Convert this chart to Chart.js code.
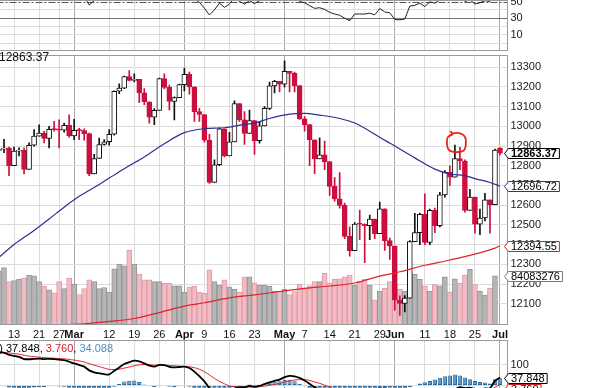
<!DOCTYPE html>
<html>
<head>
<meta charset="utf-8">
<script src="https://cdn.jsdelivr.net/npm/chart.js@4.4.1/dist/chart.umd.min.js"></script>
<style>
  html, body { margin: 0; padding: 0; background: #fff; }
  body { width: 591px; height: 388px; overflow: hidden; position: relative; }
  canvas { position: absolute; left: -20px; }
  #rsi { top: 0; }
  #main { top: 51px; }
  #macd { top: 336px; }
</style>
</head>
<body>
<canvas id="rsi" width="611" height="51"></canvas>
<canvas id="main" width="611" height="294"></canvas>
<canvas id="macd" width="611" height="110"></canvas>
<script>
const FONT = '"Liberation Sans", Arial, Helvetica, sans-serif';

// trading days shown (Jul 3 is an empty slot at the right edge)
const dates = ['Feb 8','Feb 9','Feb 10','Feb 13','Feb 14','Feb 15','Feb 16','Feb 17','Feb 21','Feb 22','Feb 23','Feb 24','Feb 27','Feb 28','Feb 29',
  'Mar 1','Mar 2','Mar 5','Mar 6','Mar 7','Mar 8','Mar 9','Mar 12','Mar 13','Mar 14','Mar 15','Mar 16','Mar 19','Mar 20','Mar 21','Mar 22','Mar 23','Mar 26','Mar 27','Mar 28','Mar 29','Mar 30',
  'Apr 2','Apr 3','Apr 4','Apr 5','Apr 9','Apr 10','Apr 11','Apr 12','Apr 13','Apr 16','Apr 17','Apr 18','Apr 19','Apr 20','Apr 23','Apr 24','Apr 25','Apr 26','Apr 27','Apr 30',
  'May 1','May 2','May 3','May 4','May 7','May 8','May 9','May 10','May 11','May 14','May 15','May 16','May 17','May 18','May 21','May 22','May 23','May 24','May 25','May 29','May 30','May 31',
  'Jun 1','Jun 4','Jun 5','Jun 6','Jun 7','Jun 8','Jun 11','Jun 12','Jun 13','Jun 14','Jun 15','Jun 18','Jun 19','Jun 20','Jun 21','Jun 22','Jun 25','Jun 26','Jun 27','Jun 28','Jun 29',
  'Jul 2','Jul 3'];

const tickDates = ['Feb 13','Feb 21','Feb 27','Mar 1','Mar 12','Mar 19','Mar 26','Apr 2','Apr 9','Apr 16','Apr 23','May 1','May 7','May 14','May 21','May 29','Jun 1','Jun 11','Jun 18','Jun 25','Jul 2'];
const tickText  = ['13','21','27','Mar','12','19','26','Apr','9','16','23','May','7','14','21','29','Jun','11','18','25','Jul'];
const monthNames = ['Mar','Apr','May','Jun','Jul'];

const opens = [12878,12884,12890,12801,12874,12878,12781,12904,12950,12966,
  12939,12985,12983,12981,13005,12952,12980,12978,12963,12759,
  12837,12908,12922,12960,13178,13194,13253,13233,13239,13170,
  13125,13046,13081,13242,13198,13126,13146,13212,13264,13200,
  13075,13060,12930,12716,12805,12987,12850,12921,13116,13033,
  12964,13029,12927,13002,13091,13205,13228,13214,13279,13269,
  13207,13038,13009,12932,12835,12855,12821,12695,12632,12599,
  12442,12369,12504,12503,12496,12530,12455,12581,12420,12393,
  12119,12101,12128,12415,12461,12554,12411,12574,12496,12652,
  12767,12742,12837,12824,12574,12641,12503,12535,12627,12602,
  12888,null];
const highs = [12900,12934,12895,12895,12891,12891,12916,12983,13008,12975,
  13000,13025,13033,13016,13058,13036,12990,12988,12966,12858,
  12941,12933,12983,13180,13216,13255,13283,13266,13239,13191,
  13125,13090,13245,13266,13210,13150,13215,13295,13275,13200,
  13091,13060,12960,12830,12993,12987,12970,13130,13116,13075,
  13083,13029,13020,13100,13225,13233,13228,13333,13279,13275,
  13207,13050,13009,12932,12942,12925,12821,12740,12766,12610,
  12490,12512,12575,12505,12550,12530,12616,12581,12433,12393,
  12140,12141,12420,12558,12560,12658,12580,12585,12665,12775,
  12800,12905,12893,12830,12680,12641,12580,12660,12627,12885,
  12892,null];
const lows = [12840,12866,12750,12801,12850,12758,12781,12900,12950,12916,
  12891,12975,12891,12970,12945,12933,12933,12930,12750,12759,
  12837,12905,12905,12955,13166,13191,13231,13225,13120,13110,
  13016,13008,13081,13190,13083,13033,13146,13180,13163,13025,
  13025,12920,12710,12716,12800,12845,12850,12921,13025,12908,
  12964,12858,12915,13002,13085,13170,13175,13200,13175,13175,
  13035,12975,12800,12760,12835,12780,12650,12620,12585,12430,
  12341,12369,12425,12308,12425,12430,12455,12370,12325,12066,
  12041,12058,12128,12415,12400,12400,12400,12460,12490,12640,
  12700,12742,12780,12565,12574,12458,12450,12520,12458,12602,
  12855,null];
const closes = [12884,12890,12801,12874,12878,12781,12904,12950,12966,12939,
  12985,12983,12981,13005,12952,12980,12978,12963,12759,12837,
  12908,12922,12960,13178,13194,13253,13233,13239,13170,13125,
  13046,13081,13242,13198,13126,13146,13212,13264,13200,13075,
  13060,12930,12716,12805,12987,12850,12921,13116,13033,12964,
  13029,12927,13002,13091,13205,13228,13214,13279,13269,13207,
  13038,13009,12932,12835,12855,12821,12695,12632,12599,12442,
  12369,12504,12503,12496,12530,12455,12581,12420,12393,12119,
  12101,12128,12415,12461,12554,12411,12574,12496,12652,12767,
  12742,12837,12824,12574,12641,12503,12535,12627,12602,12880,
  12863.37,null];

// volume in millions of shares
const volumes = [92,98,74,76,78,80,85,84,74,66,
  60,55,74,62,80,70,52,62,77,74,
  62,64,56,96,104,101,128,104,87,77,
  77,74,74,71,71,67,67,56,65,66,
  56,54,94,74,68,77,65,61,56,82,
  82,72,68,68,66,58,58,61,52,57,
  70,62,67,74,74,88,72,78,79,82,
  85,68,75,78,68,43,58,63,74,68,
  61,58,90,87,78,67,58,69,67,82,
  56,79,71,85,95,69,58,51,63,84.083276,
  null,null];

// moving averages at a few dates
const ma50Dates = ['Feb 8','Feb 13','Feb 17','Feb 23','Feb 28','Mar 2','Mar 8','Mar 14','Mar 16','Mar 21','Mar 27','Apr 2','Apr 9','Apr 13','Apr 19','Apr 23',
  'Apr 26','May 2','May 7','May 10','May 16','May 21','May 29','May 31','Jun 7','Jun 13','Jun 18','Jun 21','Jun 25','Jun 28','Jul 2'];
const ma50Values = [12335,12400,12472,12530,12590,12645,12705,12770,12800,12845,12912,12968,12988,12993,13010,13016,
  13040,13062,13066,13057,13040,13017,12945,12915,12840,12783,12758,12750,12735,12715,12696.72];
const ma200Dates = ['Feb 8','Feb 21','Feb 27','Mar 5','Mar 12','Mar 19','Mar 26','Apr 2','Apr 9','Apr 16','Apr 23','May 1','May 7','May 14','May 21',
  'May 29','Jun 4','Jun 11','Jun 18','Jun 25','Jun 29','Jul 2'];
const ma200Values = [11950,11975,11990,11998,12010,12025,12055,12088,12105,12130,12145,12165,12178,12190,12205,
  12240,12262,12295,12322,12352,12382,12394.55];

const rsiValues = [62,63,56,60,60,54,60,62,63,61,
  63,63,63,64,60,62,61,56,45.8,51,
  55,56,58,68,69,71,70,70,64,61,
  56,58,66,63,59,60,63,65,61,53,
  49,42,33.8,40,48,43,47,55,50,47,
  51,47.5,51,55,60,61,60,63,62,58,
  50,48.5,45,41.8,42.5,40.6,37,35,33.5,30,
  27,35,35,35,36,34,41.5,37.5,36.5,28.5,
  28,29,44.5,45.5,48,44,49.5,48,52,56,
  55,58,57,50,52,47,48.5,51,50,58,
  57.6,null];

const macdValues = [158,155,146,141,136,126,125,127,128,126,
  127,126,123,121,113,105,98,90,72,63,
  58,54,53,70,86,102,111,118,115,105,
  95,90,98,97,89,86,88,90,83,66,
  44,20,-12,-28,-25,-32,-30,-14,-8,-8,
  -2,-6,-2,7,15,22,28,40,46,44,
  36,24,8,-8,-20,-32,-52,-72,-90,-115,
  -138,-144,-148,-150,-147,-148,-137,-140,-142,-165,
  -183,-190,-168,-156,-140,-130,-115,-100,-80,-58,
  -40,-20,-8,-12,-10,-16,-18,-14,-13,22,
  37.848,null];
const signalValues = [160,158,155,152,149,144,140,137,135,133,
  131,130,128,127,124,121,117,112,104,97,
  90,83,77,76,78,83,88,94,98,100,
  99,97,97,97,95,94,92,91,89,85,
  77,66,50,34,20,8,-2,-6,-7,-8,
  -7,-7,-6,-3,1,5,10,16,22,26,
  28,28,24,17,10,2,-8,-20,-34,-50,
  -68,-83,-96,-107,-115,-122,-125,-128,-131,-138,
  -147,-153,-158,-158,-150,-145,-136,-128,-117,-102,
  -88,-72,-56,-50,-40,-38,-35,-28,-23,-8,
  3.76,null];
const histValues = [-2,-3,-9,-11,-13,-18,-15,-10,-7,-7,
  -4,-4,-5,-6,-11,-11,-14,-18,-35,-35,
  -32,-29,-24,-6,8,19,23,24,17,5,
  -4,-7,1,0,-6,-8,-4,-1,-6,-19,
  -33,-46,-62,-62,-45,-40,-28,-8,-1,0,
  5,1,4,10,16,19,20,26,27,20,
  7,-4,-16,-29,-33,-36,-45,-52,-56,-65,
  -70,-61,-52,-43,-32,-26,-12,-12,-11,-27,
  -36,-37,-8,2,10,15,21,28,37,44,
  48,52,48,38,30,22,17,14,10,30,
  34.088,null];

// ---------- helpers ----------
Chart.defaults.font.family = FONT;
const lastIdx = closes.reduce((a, v, i) => v == null ? a : i, 0);
const lastVol = volumes.reduce((a, v, i) => v == null ? a : i, 0);

const tickMap = {};
tickDates.forEach((d, i) => { tickMap[d] = tickText[i]; });

const RED = '#cc0f3f', BLACK = '#111';
const isDown = closes.map((c, i) => c != null && (i > 0 ? c < closes[i - 1] : c < opens[i]));
const lineColor = isDown.map(d => d ? RED : BLACK);
const bodyFill = closes.map((c, i) => (c != null && c < opens[i]) ? lineColor[i] : '#fff');

const AREA_LEFT = 16.5, AXIS_W = 83.5;

// the chart area is placed by hand, so drop the label padding Chart.js adds
function noPad(s) { s.paddingTop = 0; s.paddingBottom = 0; s.paddingLeft = 0; s.paddingRight = 0; }

function xScale(showLabels) {
  return {
    type: 'category',
    offset: true,
    grid: {
      offset: false, drawTicks: false,
      color: c => {
        const t = tickMap[dates[c.index]];
        if (!t) return 'rgba(0,0,0,0)';
        return monthNames.includes(t) ? '#a8a8a8' : '#dcdcdc';
      }
    },
    border: { display: false },
    ticks: {
      display: showLabels, autoSkip: false, maxRotation: 0, minRotation: 0, padding: 3, color: '#111',
      callback: (v, i) => tickMap[dates[i]] || '',
      font: c => ({ family: FONT, size: 11, weight: monthNames.includes(tickMap[dates[c.index]]) ? 'bold' : 'normal' })
    },
    afterFit: s => { s.height = showLabels ? 20 : 0; noPad(s); }
  };
}

function yScale(min, max, values, shown, gridColor) {
  return {
    position: 'right', min, max,
    afterBuildTicks: s => { s.ticks = values.map(v => ({ value: v })); },
    afterFit: s => { s.width = AXIS_W; noPad(s); },
    grid: { drawTicks: false, color: gridColor || '#dcdcdc' },
    border: { display: false },
    ticks: { autoSkip: false, padding: 3, color: '#222', font: { family: FONT, size: 11 },
      callback: v => shown.includes(v) ? String(v) : '' }
  };
}

function frame(chart) {
  const a = chart.chartArea, ctx = chart.ctx;
  ctx.save();
  ctx.strokeStyle = '#9a9a9a';
  ctx.lineWidth = 1;
  ctx.strokeRect(Math.round(a.left) + 0.5, Math.round(a.top) + 0.5,
    Math.round(a.right - a.left) - 1, Math.round(a.bottom - a.top) - 1);
  ctx.restore();
}

function tag(ctx, x, y, text, color, bold) {
  ctx.save();
  ctx.font = (bold ? 'bold ' : '') + '11px ' + FONT;
  const w = ctx.measureText(text).width + 5;
  const h = 10;
  x = Math.round(x) + 0.5;
  y = Math.round(y) + 0.5;
  ctx.beginPath();
  ctx.moveTo(x - 4, y);
  ctx.lineTo(x, y - h / 2);
  ctx.lineTo(x + w, y - h / 2);
  ctx.lineTo(x + w, y + h / 2);
  ctx.lineTo(x, y + h / 2);
  ctx.closePath();
  ctx.fillStyle = '#fff';
  ctx.fill();
  ctx.strokeStyle = color;
  ctx.lineWidth = 1;
  ctx.stroke();
  ctx.fillStyle = '#000';
  ctx.textBaseline = 'middle';
  ctx.fillText(text, x + 2.5, y + 0.5);
  ctx.restore();
}

const baseOptions = {
  responsive: false,
  devicePixelRatio: 1,
  animation: false,
  events: [],
  plugins: { legend: { display: false }, tooltip: { enabled: false } }
};

// ---------- RSI panel (only its lower part is visible) ----------
new Chart(document.getElementById('rsi'), {
  type: 'line',
  data: {
    labels: dates,
    datasets: [{
      data: rsiValues,
      borderColor: '#222', borderWidth: 1, pointRadius: 0, tension: 0,
      fill: { target: { value: 30 }, above: 'rgba(0,0,0,0)', below: '#8a8a8a' }
    }]
  },
  options: {
    ...baseOptions,
    layout: { padding: { left: AREA_LEFT, right: 0, top: 0, bottom: 0 } },
    scales: {
      x: xScale(false),
      y: yScale(-9.3, 51.8, [0, 10, 20, 30, 40, 50], [10, 30, 50],
        c => c.tick.value === 30 ? '#6e6e6e' : c.tick.value === 50 ? 'rgba(0,0,0,0)' : '#dcdcdc')
    }
  },
  plugins: [{
    id: 'rsiExtras',
    beforeDatasetsDraw(chart) {
      const ctx = chart.ctx, a = chart.chartArea;
      const y = Math.round(chart.scales.y.getPixelForValue(50)) + 0.5;
      ctx.save();
      ctx.strokeStyle = '#555';
      ctx.lineWidth = 1;
      ctx.setLineDash([7, 2, 2, 2]);
      ctx.beginPath();
      ctx.moveTo(a.left, y);
      ctx.lineTo(a.right, y);
      ctx.stroke();
      ctx.restore();
    },
    afterDraw: frame
  }]
});

// ---------- price + volume panel ----------
const marker = dates.map((d, i) => i === lastIdx ? highs[i] : null);

new Chart(document.getElementById('main'), {
  type: 'bar',
  data: {
    labels: dates,
    datasets: [
      {
        type: 'line', data: ma50Dates.map((d, i) => ({ x: d, y: ma50Values[i] })),
        borderColor: '#2e2e94', borderWidth: 1.2, pointRadius: 0, cubicInterpolationMode: 'monotone', order: 1
      },
      {
        type: 'line', data: ma200Dates.map((d, i) => ({ x: d, y: ma200Values[i] })),
        borderColor: '#e3222b', borderWidth: 1.2, pointRadius: 0, cubicInterpolationMode: 'monotone', order: 1
      },
      {
        data: opens.map((o, i) => o == null ? null : [o, closes[i]]),
        backgroundColor: bodyFill, borderColor: lineColor, borderWidth: 1, borderSkipped: false,
        barThickness: 5, minBarLength: 1, grouped: false, order: 3
      },
      {
        data: lows.map((l, i) => l == null ? null : [l, highs[i]]),
        backgroundColor: lineColor, borderWidth: 0, barThickness: 1, grouped: false, order: 4
      },
      {
        type: 'line', data: marker, showLine: false, pointStyle: 'rect', pointRadius: 3,
        pointBackgroundColor: '#f6e27a', pointBorderWidth: 0, order: 5
      },
      {
        data: volumes, yAxisID: 'vol',
        backgroundColor: isDown.map(d => d ? '#f2bcc4' : '#b6b6b6'),
        borderColor: isDown.map(d => d ? '#e19aa6' : '#959595'),
        borderWidth: 1, borderSkipped: 'bottom', barPercentage: 1, categoryPercentage: 1, grouped: false, order: 9
      }
    ]
  },
  options: {
    ...baseOptions,
    layout: { padding: { left: AREA_LEFT, right: 0, top: 0, bottom: 0 } },
    scales: {
      x: xScale(true),
      y: yScale(11992, 13362, [12100,12200,12300,12400,12500,12600,12700,12800,12900,13000,13100,13200,13300],
        [12100,12200,12300,12400,12500,12600,12700,12800,12900,13000,13100,13200,13300]),
      vol: { display: false, min: 0, max: 460.8 }
    }
  },
  plugins: [{
    id: 'priceExtras',
    afterDraw(chart) {
      const ctx = chart.ctx, a = chart.chartArea;
      const xs = chart.scales.x, ys = chart.scales.y, vs = chart.scales.vol;
      frame(chart);

      // panel title (cut at the left edge)
      ctx.save();
      ctx.font = '12px ' + FONT;
      ctx.fillStyle = '#111';
      ctx.textBaseline = 'middle';
      ctx.fillText(closes[lastIdx].toFixed(2), AREA_LEFT + 2.5, 6.5);
      ctx.restore();

      // hand-drawn red loop around the June 19-20 highs
      const i1 = dates.indexOf('Jun 19'), i2 = dates.indexOf('Jun 20');
      const cx = (xs.getPixelForValue(i1) + xs.getPixelForValue(i2)) / 2 - 1;
      const cy = ys.getPixelForValue(highs[i1]) - 2;
      ctx.save();
      ctx.strokeStyle = '#e8261f';
      ctx.lineWidth = 1.8;
      ctx.beginPath();
      ctx.moveTo(cx - 5, cy - 9.5);
      ctx.bezierCurveTo(cx + 2, cy - 11, cx + 10, cy - 10, cx + 9.5, cy - 1);
      ctx.bezierCurveTo(cx + 9.5, cy + 7, cx + 8, cy + 9, cx, cy + 9);
      ctx.bezierCurveTo(cx - 9, cy + 9, cx - 9.5, cy + 5, cx - 9.5, cy - 2);
      ctx.bezierCurveTo(cx - 9.5, cy - 6, cx - 8, cy - 8, cx - 4, cy - 8);
      ctx.stroke();
      ctx.beginPath();
      ctx.moveTo(cx - 6, cy - 12);
      ctx.lineTo(cx - 4, cy - 9);
      ctx.lineTo(cx - 7, cy - 7);
      ctx.stroke();
      ctx.restore();

      // value tags on the price axis
      const x0 = a.right;
      tag(ctx, x0, ys.getPixelForValue(closes[lastIdx]), closes[lastIdx].toFixed(2), '#000', true);
      tag(ctx, x0, ys.getPixelForValue(ma50Values[ma50Values.length - 1]), ma50Values[ma50Values.length - 1].toFixed(2), '#2e2e94', false);
      tag(ctx, x0, ys.getPixelForValue(ma200Values[ma200Values.length - 1]), ma200Values[ma200Values.length - 1].toFixed(2), '#d0202a', false);
      tag(ctx, x0, vs.getPixelForValue(volumes[lastVol]), String(Math.round(volumes[lastVol] * 1e6)), '#777', false);
    }
  }]
});

// ---------- MACD panel (only its upper part is visible) ----------
new Chart(document.getElementById('macd'), {
  type: 'bar',
  data: {
    labels: dates,
    datasets: [
      { type: 'line', data: macdValues, borderColor: '#000', borderWidth: 1.8, pointRadius: 0, tension: 0.3, order: 1 },
      { type: 'line', data: signalValues, borderColor: '#e0242c', borderWidth: 1, pointRadius: 0, tension: 0.3, order: 2 },
      { data: histValues, backgroundColor: '#5a9acd', borderColor: '#2d6a9c', borderWidth: 1, borderSkipped: false,
        barPercentage: 0.85, categoryPercentage: 1, order: 3 }
    ]
  },
  options: {
    ...baseOptions,
    layout: { padding: { left: AREA_LEFT, right: 0, top: 3.5, bottom: 0 } },
    scales: {
      x: xScale(false),
      y: yScale(-288, 219, [0, 100], [100])
    }
  },
  plugins: [{
    id: 'macdExtras',
    afterDraw(chart) {
      const ctx = chart.ctx, a = chart.chartArea, ys = chart.scales.y;
      frame(chart);
      const m = macdValues[lastIdx], s = signalValues[lastIdx], h = histValues[lastIdx];

      ctx.save();
      ctx.font = '11px ' + FONT;
      ctx.textBaseline = 'middle';
      const parts = [['MACD(12,26,9) ', '#000'], [m.toFixed(3), '#000'], [', ', '#000'],
        [s.toFixed(3), '#d0202a'], [', ', '#000'], [h.toFixed(3), '#4f8cc0']];
      let x = AREA_LEFT + 9.5 - ctx.measureText(parts[0][0]).width;
      parts.forEach(([t, c]) => { ctx.fillStyle = c; ctx.fillText(t, x, 12.5); x += ctx.measureText(t).width; });
      ctx.restore();

      const y1 = ys.getPixelForValue(m);
      const y2 = Math.max(ys.getPixelForValue(s), y1 + 11);
      tag(ctx, a.right, y1, m.toFixed(3), '#000', false);
      tag(ctx, a.right, y2, s.toFixed(3), '#d0202a', false);
    }
  }]
});
</script>
</body>
</html>
